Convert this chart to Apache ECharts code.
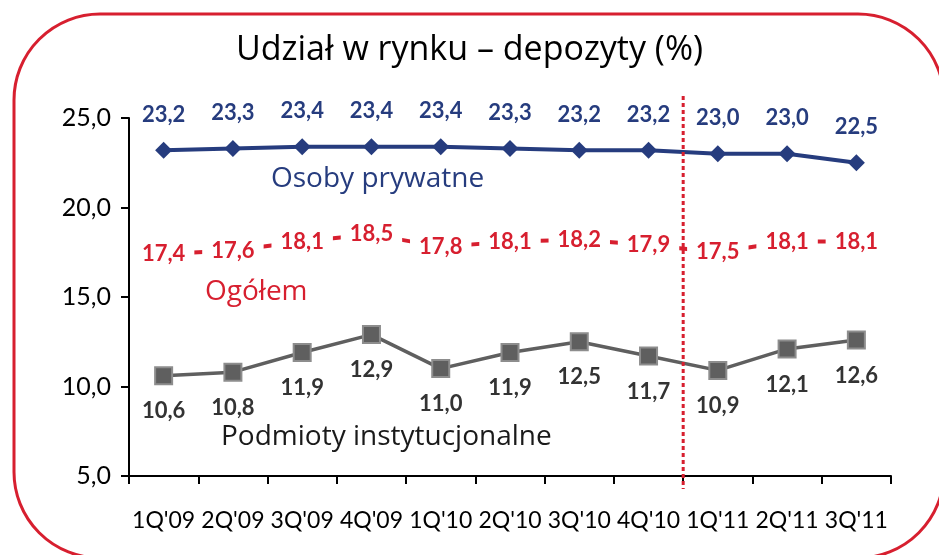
<!DOCTYPE html>
<html lang="pl">
<head>
    <meta charset="utf-8"/>
    <title>Udział w rynku – depozyty</title>
    <script src="https://cdn.jsdelivr.net/npm/echarts@6/dist/echarts.min.js"></script>
    <style>
        html, body { margin: 0; background: #FFFFFF; }
        #chart { width: 939px; height: 555px; }
    </style>
</head>
<body>
<div id="chart"></div>
<script>
    var quarters = ["1Q'09", "2Q'09", "3Q'09", "4Q'09", "1Q'10", "2Q'10", "3Q'10", "4Q'10", "1Q'11", "2Q'11", "3Q'11"];
    var osobyPrywatne = [23.2, 23.3, 23.4, 23.4, 23.4, 23.3, 23.2, 23.2, 23.0, 23.0, 22.5];
    var ogolem = [17.4, 17.6, 18.1, 18.5, 17.8, 18.1, 18.2, 17.9, 17.5, 18.1, 18.1];
    var podmioty = [10.6, 10.8, 11.9, 12.9, 11.0, 11.9, 12.5, 11.7, 10.9, 12.1, 12.6];
    // podział między 4Q'10 a 1Q'11
    var splitAfter = 7;

    var NAVY = '#263c7e';
    var RED = '#d71f2f';
    var GREY = '#5f5f5f';
    var labelFont = 'Lato, "Open Sans", sans-serif';
    var titleFont = '"Open Sans", "Noto Sans", sans-serif';

    function fmt(v) {
        return v.toFixed(1).replace('.', ',');
    }

    var chart = echarts.init(document.getElementById('chart'), null, {renderer: 'canvas'});

    chart.setOption({
        animation: false,
        backgroundColor: '#FFFFFF',
        grid: {left: 129, right: 48, top: 118, bottom: 79},
        xAxis: {
            type: 'category',
            data: quarters,
            boundaryGap: true,
            axisLine: {lineStyle: {color: '#000', width: 2}},
            axisTick: {show: true, length: 8, lineStyle: {color: '#000', width: 2}},
            axisLabel: {color: '#000', fontSize: 23, fontFamily: labelFont, margin: 33, interval: 0}
        },
        yAxis: {
            type: 'value',
            min: 5, max: 25, interval: 5,
            splitLine: {show: false},
            axisLine: {show: true, lineStyle: {color: '#000', width: 2}},
            axisTick: {show: true, length: 8, lineStyle: {color: '#000', width: 2}},
            axisLabel: {color: '#000', fontSize: 25, fontFamily: labelFont, margin: 18, formatter: fmt}
        },
        series: [
            {
                name: 'Osoby prywatne',
                type: 'line',
                data: osobyPrywatne,
                symbol: 'diamond',
                symbolSize: 17,
                lineStyle: {color: NAVY, width: 4},
                itemStyle: {color: NAVY},
                label: {
                    show: true, position: 'top', distance: 16,
                    color: NAVY, fontSize: 22, fontWeight: 'bold', fontFamily: labelFont,
                    formatter: function (p) { return fmt(p.value); }
                }
            },
            {
                name: 'Ogółem',
                type: 'line',
                data: ogolem,
                symbol: 'circle',
                symbolSize: 1,
                showAllSymbol: true,
                lineStyle: {color: RED, width: 4},
                itemStyle: {color: RED},
                label: {
                    show: true, position: 'inside',
                    color: RED, fontSize: 22, fontWeight: 'bold', fontFamily: labelFont,
                    backgroundColor: '#FFFFFF', padding: [3, 9],
                    formatter: function (p) { return fmt(p.value); }
                }
            },
            {
                name: 'Podmioty instytucjonalne',
                type: 'line',
                data: podmioty,
                symbol: 'rect',
                symbolSize: 17,
                lineStyle: {color: GREY, width: 3.5},
                itemStyle: {color: GREY, borderColor: '#8d8d8d', borderWidth: 2},
                label: {
                    show: true, position: 'bottom', distance: 15,
                    color: '#333333', fontSize: 22, fontWeight: 'bold', fontFamily: labelFont,
                    formatter: function (p) { return fmt(p.value); }
                }
            }
        ]
    });

    // linia podziału i opisy, liczone ze skali osi
    var xa = chart.convertToPixel({xAxisIndex: 0}, splitAfter);
    var xb = chart.convertToPixel({xAxisIndex: 0}, splitAfter + 1);
    var splitX = (xa + xb) / 2;
    var yTop = chart.convertToPixel({yAxisIndex: 0}, 25);
    var yBottom = chart.convertToPixel({yAxisIndex: 0}, 5);

    chart.setOption({
        graphic: [
            {
                type: 'rect', silent: true, z: -1,
                shape: {x: 14, y: 14, width: 930, height: 544, r: 86},
                style: {fill: 'none', stroke: RED, lineWidth: 3}
            },
            {
                type: 'text', left: 'center', top: 33,
                style: {text: 'Udział w rynku – depozyty (%)', fill: '#000', font: '500 34px ' + titleFont}
            },
            {
                type: 'line', silent: true, z: 10,
                shape: {x1: splitX, y1: yTop - 22, x2: splitX, y2: yBottom + 13},
                style: {stroke: RED, lineWidth: 3, lineDash: [4, 3]}
            },
            {
                type: 'text', x: 271, y: 165,
                style: {text: 'Osoby prywatne', fill: NAVY, font: '28px ' + titleFont}
            },
            {
                type: 'text', x: 205, y: 278,
                style: {text: 'Ogółem', fill: RED, font: '28px ' + titleFont}
            },
            {
                type: 'text', x: 221, y: 423,
                style: {text: 'Podmioty instytucjonalne', fill: '#1a1a1a', font: '28px ' + titleFont}
            }
        ]
    });
</script>
</body>
</html>
